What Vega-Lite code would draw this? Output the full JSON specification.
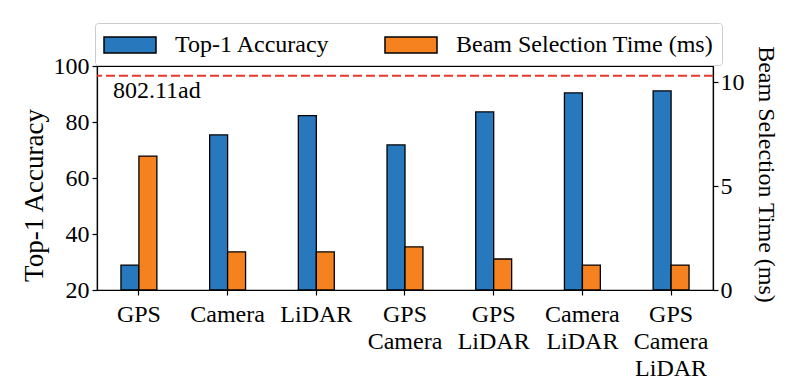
{
  "$schema": "https://vega.github.io/schema/vega-lite/v6.json",
  "width": 616,
  "height": 224,
  "autosize": {"type": "none"},
  "padding": {"left": 97, "top": 66, "right": 74, "bottom": 96},
  "background": "white",
  "config": {
    "font": "Liberation Serif",
    "view": {"stroke": "black", "strokeWidth": 1.2},
    "axis": {
      "domainColor": "black", "domainWidth": 1.2, "tickColor": "black", "tickWidth": 1.2, "tickSize": 5,
      "labelColor": "black", "labelFont": "Liberation Serif", "labelFontSize": 24,
      "titleColor": "black", "titleFont": "Liberation Serif", "titleFontSize": 24, "titleFontWeight": "normal",
      "grid": false
    },
    "legend": {
      "labelFont": "Liberation Serif", "labelFontSize": 24, "labelColor": "black", "labelLimit": 400
    }
  },
  "data": {
    "values": [
      {"cat": "GPS", "series": "Top-1 Accuracy", "value": 28.9},
      {"cat": "Camera", "series": "Top-1 Accuracy", "value": 75.4},
      {"cat": "LiDAR", "series": "Top-1 Accuracy", "value": 82.3},
      {"cat": "GPS Camera", "series": "Top-1 Accuracy", "value": 71.8},
      {"cat": "GPS LiDAR", "series": "Top-1 Accuracy", "value": 83.6},
      {"cat": "Camera LiDAR", "series": "Top-1 Accuracy", "value": 90.4},
      {"cat": "GPS Camera LiDAR", "series": "Top-1 Accuracy", "value": 91.1},
      {"cat": "GPS", "series": "Beam Selection Time (ms)", "value": 6.44},
      {"cat": "Camera", "series": "Beam Selection Time (ms)", "value": 1.83},
      {"cat": "LiDAR", "series": "Beam Selection Time (ms)", "value": 1.83},
      {"cat": "GPS Camera", "series": "Beam Selection Time (ms)", "value": 2.07},
      {"cat": "GPS LiDAR", "series": "Beam Selection Time (ms)", "value": 1.49},
      {"cat": "Camera LiDAR", "series": "Beam Selection Time (ms)", "value": 1.2},
      {"cat": "GPS Camera LiDAR", "series": "Beam Selection Time (ms)", "value": 1.2}
    ]
  },
  "layer": [
    {
      "transform": [{"filter": "datum.series == 'Top-1 Accuracy'"}],
      "mark": {"type": "bar", "stroke": "black", "strokeWidth": 1.3},
      "encoding": {
        "x": {
          "field": "cat", "type": "nominal",
          "scale": {"domain": ["GPS", "Camera", "LiDAR", "GPS Camera", "GPS LiDAR", "Camera LiDAR", "GPS Camera LiDAR"], "paddingInner": 0.595, "paddingOuter": 0.27},
          "axis": {"title": null, "labelAngle": 0, "labelExpr": "split(datum.label, ' ')", "labelLineHeight": 27, "labelPadding": 7, "labelBaseline": "top"}
        },
        "xOffset": {"field": "series", "type": "nominal", "scale": {"domain": ["Top-1 Accuracy", "Beam Selection Time (ms)"], "paddingInner": 0, "paddingOuter": 0}},
        "y": {"field": "value", "type": "quantitative", "scale": {"domain": [20, 100], "nice": false, "zero": false},
              "axis": {"title": "Top-1 Accuracy", "titleFontSize": 27, "values": [20, 40, 60, 80, 100], "labelPadding": 3, "titlePadding": 5, "titleY": 129}},
        "y2": {"datum": 20},
        "color": {"field": "series", "type": "nominal",
                  "scale": {"domain": ["Top-1 Accuracy", "Beam Selection Time (ms)"], "range": ["#2878bd", "#f5821f"]},
                  "legend": {"title": null, "orient": "none", "direction": "horizontal", "legendX": -2, "legendY": -43,
                             "symbolType": "M-2,-0.615H2V0.615H-2Z", "symbolSize": 676, "symbolStrokeColor": "black", "symbolStrokeWidth": 1.5,
                             "symbolOpacity": 1, "symbolOffset": 13, "labelOffset": 31, "columnPadding": 52, "padding": 8,
                             "labelFont": "Liberation Serif", "labelFontSize": 24,
                             "strokeColor": "#cccccc", "fillColor": "white", "cornerRadius": 3}}
      }
    },
    {
      "layer": [
        {
          "transform": [{"filter": "datum.series == 'Beam Selection Time (ms)'"}],
          "mark": {"type": "bar", "stroke": "black", "strokeWidth": 1.3},
          "encoding": {
            "x": {"field": "cat", "type": "nominal"},
            "xOffset": {"field": "series", "type": "nominal", "scale": {"domain": ["Top-1 Accuracy", "Beam Selection Time (ms)"], "paddingInner": 0, "paddingOuter": 0}},
            "y": {"field": "value", "type": "quantitative", "scale": {"domain": [0, 10.77], "nice": false},
                  "axis": {"orient": "right", "title": "Beam Selection Time (ms)", "values": [0, 5, 10], "labelPadding": 2, "titlePadding": 9, "titleY": 108}},
            "color": {"field": "series", "type": "nominal"}
          }
        },
        {
          "data": {"values": [{"label": "802.11ad"}]},
          "mark": {"type": "rule", "color": "#e8372c", "strokeWidth": 2, "strokeDash": [9, 4]},
          "encoding": {"y": {"datum": 10.3}}
        },
        {
          "data": {"values": [{"label": "802.11ad"}]},
          "mark": {"type": "text", "align": "left", "baseline": "middle", "fontSize": 24, "font": "Liberation Serif", "color": "black", "dx": -26},
          "encoding": {"x": {"datum": "GPS"}, "y": {"datum": 9.57}, "text": {"field": "label"}}
        }
      ]
    }
  ],
  "resolve": {"scale": {"y": "independent"}}
}
